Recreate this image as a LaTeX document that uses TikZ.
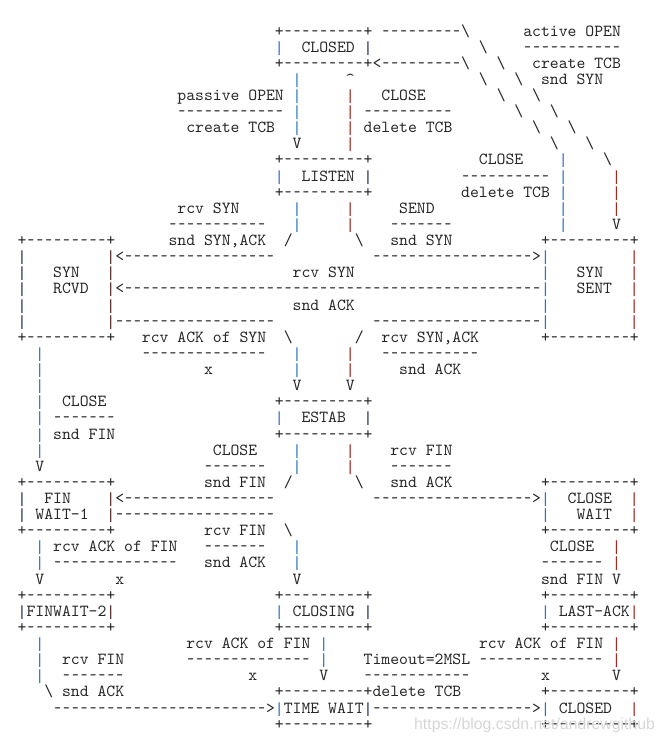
\documentclass[tikz,border=0pt]{standalone}
\usepackage{graphicx}
\usepackage{fontspec}
\setmonofont{lmmono10-regular.otf}
\newfontfamily\wmfont{Liberation Sans}
\newfontfamily\barmono{Liberation Mono}
\usepackage{tikz}
\newlength{\colw}
\setlength{\colw}{8.87pt}
\definecolor{ink}{RGB}{38,38,38}
\definecolor{barblue}{RGB}{45,112,196}
\definecolor{barred}{RGB}{158,42,30}
\definecolor{barnavy}{RGB}{32,40,88}
\definecolor{barbrown}{RGB}{82,38,32}
\definecolor{wmgray}{RGB}{214,214,214}
\newcommand{\gap}[1]{\hspace*{#1\colw}}
\newcommand{\bsl}{\textbackslash}
\newcommand{\caret}{\textasciicircum}
\newcommand{\onedash}{\makebox[\colw]{\scalebox{0.75}[1]{-}}}
\newcommand{\dashes}[1]{\foreach \d in {1,...,#1}{\onedash}}
\newcommand{\boxline}{+\dashes{9}+}
\newcommand{\vbar}[1]{\makebox[\colw]{\textcolor{#1}{\barmono\fontsize{14.78}{16}\selectfont|}}}
\newcommand{\barB}{\vbar{barblue}}
\newcommand{\barR}{\vbar{barred}}
\newcommand{\barN}{\vbar{barnavy}}
\newcommand{\barM}{\vbar{barbrown}}
\frenchspacing

\begin{document}
\begin{tikzpicture}[x=8.87pt,y=-16.12pt,
	row/.style={anchor=base west, inner sep=0pt, text=ink,
		font=\ttfamily\fontsize{16.9}{16}\selectfont},
	wmark/.style={anchor=base west, inner sep=0pt, text=wmgray,
		font=\wmfont\fontsize{15.8}{16}\selectfont}]
	\useasboundingbox (0pt,0pt) rectangle (664pt,-744pt);

	\begin{scope}[shift={(8.67pt,-19.88pt)}]
	% CLOSED and LISTEN
	\node[row] (r1) at (0,1) {\gap{30}\boxline\gap{1}\dashes{9}\bsl\gap{6}active OPEN};
	\node[row] (r2) at (0,2) {\gap{30}\barB\gap{2}CLOSED \barN\gap{12}\bsl\gap{4}\dashes{11}};
	\node[row] (r3) at (0,3) {\gap{30}\boxline<\dashes{9}\bsl\gap{3}\bsl\gap{3}create TCB};
	\node[row] (r4) at (0,4) {\gap{32}\barB\gap{5}\caret\gap{14}\bsl\gap{3}\bsl\gap{2}snd SYN};
	\node[row] (r5) at (0,5) {\gap{19}passive OPEN \barB\gap{5}\barR\gap{3}CLOSE\gap{8}\bsl\gap{3}\bsl};
	\node[row] (r6) at (0,6) {\gap{19}\dashes{12}\gap{1}\barB\gap{5}\barR\gap{1}\dashes{10}\gap{7}\bsl\gap{3}\bsl};
	\node[row] (r7) at (0,7) {\gap{20}create TCB\gap{2}\barB\gap{5}\barR\gap{1}delete TCB\gap{9}\bsl\gap{3}\bsl};
	\node[row] (r8) at (0,8) {\gap{32}V\gap{5}\barR\gap{22}\bsl\gap{3}\bsl};
	\node[row] (r9) at (0,9) {\gap{30}\boxline\gap{12}CLOSE\gap{4}\barB\gap{4}\bsl};
	\node[row] (r10) at (0,10) {\gap{30}\barB\gap{2}LISTEN \barN\gap{10}\dashes{10}\gap{1}\barB\gap{5}\barR};
	\node[row] (r11) at (0,11) {\gap{30}\boxline\gap{10}delete TCB\gap{1}\barB\gap{5}\barR};
	\node[row] (r12) at (0,12) {\gap{19}rcv SYN\gap{6}\barB\gap{5}\barR\gap{5}SEND\gap{14}\barB\gap{5}\barR};
	\node[row] (r13) at (0,13) {\gap{18}\dashes{11}\gap{3}\barB\gap{5}\barR\gap{4}\dashes{7}\gap{12}\barB\gap{5}V};

	% SYN RCVD and SYN SENT
	\node[row] (r14) at (0,14) {\gap{1}\boxline\gap{6}snd SYN,ACK\gap{2}/\gap{7}\bsl\gap{3}snd SYN\gap{10}\boxline};
	\node[row] (r15) at (0,15) {\gap{1}\barN\gap{9}\barM<\dashes{17}\gap{11}\dashes{18}>\barB\gap{9}\barR};
	\node[row] (r16) at (0,16) {\gap{1}\barN\gap{3}SYN\gap{3}\barM\gap{20}rcv SYN\gap{21}\barB\gap{3}SYN\gap{3}\barR};
	\node[row] (r17) at (0,17) {\gap{1}\barN\gap{3}RCVD\gap{2}\barM<\dashes{47}\barB\gap{3}SENT\gap{2}\barR};
	\node[row] (r18) at (0,18) {\gap{1}\barN\gap{9}\barM\gap{20}snd ACK\gap{21}\barB\gap{9}\barR};
	\node[row] (r19) at (0,19) {\gap{1}\barN\gap{9}\barM\dashes{18}\gap{11}\dashes{19}\barB\gap{9}\barR};
	\node[row] (r20) at (0,20) {\gap{1}\boxline\gap{3}rcv ACK of SYN\gap{2}\bsl\gap{7}/\gap{2}rcv SYN,ACK\gap{7}\boxline};
	\node[row] (r21) at (0,21) {\gap{3}\barB\gap{11}\dashes{14}\gap{3}\barB\gap{5}\barR\gap{3}\dashes{11}};
	\node[row] (r22) at (0,22) {\gap{3}\barB\gap{18}x\gap{9}\barB\gap{5}\barR\gap{5}snd ACK};
	\node[row] (r23) at (0,23) {\gap{3}\barB\gap{28}V\gap{5}V};

	% ESTAB
	\node[row] (r24) at (0,24) {\gap{3}\barB\gap{2}CLOSE\gap{19}\boxline};
	\node[row] (r25) at (0,25) {\gap{3}\barB\gap{1}\dashes{7}\gap{18}\barB\gap{2}ESTAB\gap{2}\barN};
	\node[row] (r26) at (0,26) {\gap{3}\barB\gap{1}snd FIN\gap{18}\boxline};
	\node[row] (r27) at (0,27) {\gap{3}\barB\gap{19}CLOSE\gap{4}\barB\gap{5}\barR\gap{4}rcv FIN};
	\node[row] (r28) at (0,28) {\gap{3}V\gap{18}\dashes{7}\gap{3}\barB\gap{5}\barR\gap{4}\dashes{7}};

	% FIN WAIT-1 and CLOSE WAIT
	\node[row] (r29) at (0,29) {\gap{1}\boxline\gap{10}snd FIN\gap{2}/\gap{7}\bsl\gap{3}snd ACK\gap{10}\boxline};
	\node[row] (r30) at (0,30) {\gap{1}\barN\gap{2}FIN\gap{4}\barM<\dashes{17}\gap{11}\dashes{18}>\barB\gap{2}CLOSE\gap{2}\barR};
	\node[row] (r31) at (0,31) {\gap{1}\barN\gap{1}WAIT-1\gap{2}\barM\dashes{18}\gap{30}\barB\gap{3}WAIT\gap{2}\barR};
	\node[row] (r32) at (0,32) {\gap{1}\boxline\gap{10}rcv FIN\gap{2}\bsl\gap{28}\boxline};
	\node[row] (r33) at (0,33) {\gap{3}\barB\gap{1}rcv ACK of FIN\gap{3}\dashes{7}\gap{3}\barB\gap{28}CLOSE\gap{2}\barR};
	\node[row] (r34) at (0,34) {\gap{3}\barB\gap{1}\dashes{14}\gap{3}snd ACK\gap{3}\barB\gap{27}\dashes{7}\gap{1}\barR};
	\node[row] (r35) at (0,35) {\gap{3}V\gap{8}x\gap{19}V\gap{27}snd FIN V};

	% FINWAIT-2, CLOSING, LAST-ACK
	\node[row] (r36) at (0,36) {\gap{1}\boxline\gap{18}\boxline\gap{19}\boxline};
	\node[row] (r37) at (0,37) {\gap{1}\barN FINWAIT-2\barM\gap{18}\barB\gap{1}CLOSING\gap{1}\barN\gap{19}\barB\gap{1}LAST-ACK\barR};
	\node[row] (r38) at (0,38) {\gap{1}\boxline\gap{18}\boxline\gap{19}\boxline};
	\node[row] (r39) at (0,39) {\gap{3}\barB\gap{16}rcv ACK of FIN\gap{1}\barB\gap{17}rcv ACK of FIN\gap{1}\barR};
	\node[row] (r40) at (0,40) {\gap{3}\barB\gap{2}rcv FIN\gap{7}\dashes{14}\gap{1}\barB\gap{4}Timeout=2MSL\gap{1}\dashes{14}\gap{1}\barR};
	\node[row] (r41) at (0,41) {\gap{3}\barB\gap{2}\dashes{7}\gap{14}x\gap{7}V\gap{4}\dashes{12}\gap{8}x\gap{7}V};

	% TIME WAIT and CLOSED
	\node[row] (r42) at (0,42) {\gap{4}\bsl\gap{1}snd ACK\gap{17}\boxline delete TCB\gap{9}\boxline};
	\node[row] (r43) at (0,43) {\gap{5}\dashes{24}>\barB TIME WAIT\barN\dashes{18}>\barB\gap{1}CLOSED\gap{2}\barR};
	\node[row] (r44) at (0,44) {\gap{30}\boxline\gap{19}\boxline};
	\end{scope}

	\node[wmark] (wm) at (414pt,-729pt) {https://blog.csdn.net/andrewgithub};
\end{tikzpicture}
\end{document}
